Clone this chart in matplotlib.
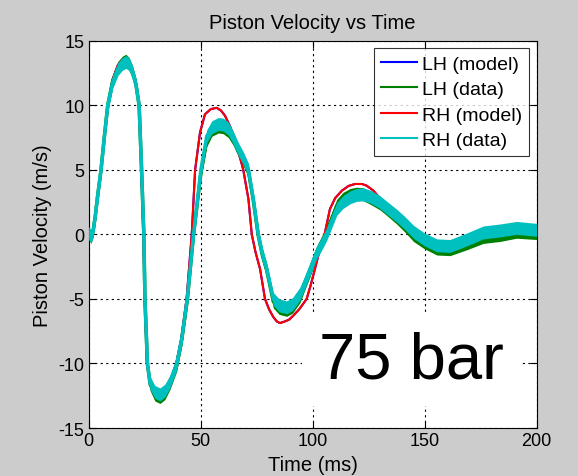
import matplotlib.pyplot as plt

# Values (time in ms, velocity in m/s)
T_MODEL = [0, 1, 2, 3, 4, 5.5, 7, 8.5, 10.7, 13, 15, 16.6, 18, 19.5, 21.1,
           22.4, 23.5, 24.4, 25, 26, 27.4, 29.5, 31.8, 34, 36.3, 39.1, 41.3,
           43.7, 46, 47.5, 49.7, 51.9, 54.5, 57.1, 59, 60.8, 63, 65.3, 67, 69,
           71.3, 72.8, 74.5, 76.5, 78.7, 80.5, 82.4, 84, 85.4, 87.5, 89.5,
           91.3, 94, 97.3, 99, 101, 103, 105.3, 107.7, 110, 113, 116, 118.9,
           122, 124.1, 127, 130, 134, 138, 142, 146, 150, 155, 161, 168, 176,
           184, 191, 200]
RH_MODEL = [0, -0.2, 0.3, 1.5, 3.0, 5.0, 7.6, 10.0, 12.0, 13.1, 13.5, 13.6,
            13.4, 12.8, 11.7, 10.0, 5.0, 0.0, -5.0, -10.0, -11.5, -12.2, -12.4,
            -12.1, -11.4, -10.0, -8.1, -5.0, 0.0, 5.0, 7.9, 9.3, 9.7, 9.8, 9.6,
            9.2, 8.4, 7.4, 6.3, 5.0, 2.74, 0.0, -1.4, -2.68, -5.0, -5.8, -6.4,
            -6.75, -6.87, -6.75, -6.6, -6.3, -5.8, -5.0, -4.0, -2.68, -1.3, 0.0,
            1.96, 2.8, 3.38, 3.75, 3.9, 3.9, 3.77, 3.4, 2.8, 2.1, 1.4, 0.8, 0.1,
            -0.4, -0.8, -0.9, -0.5, 0.0, 0.3, 0.5, 0.4]
# LH model sits underneath the RH model trace in the picture
LH_MODEL = list(RH_MODEL)

T_DATA = [0, 1, 2, 3, 4, 5.5, 7, 8.5, 10.7, 13, 15, 16.6, 18, 19.5, 21.1,
          22.5, 23.6, 24.6, 25.1, 26.2, 27.4, 29.5, 31.8, 34, 36.3, 39.3, 41.5,
          44, 46.8, 50.1, 52.7, 55, 57.9, 60, 62.3, 64.5, 66.8, 69, 71.3, 73.5,
          75.7, 77.5, 79.5, 82.4, 85, 88.4, 91, 94.3, 96.5, 98.8, 101.5, 104.7,
          106.2, 108.5, 110.7, 113.5, 116.7, 119.5, 122.6, 126, 130, 133.5,
          137.5, 141, 145, 149.7, 155.4, 161.3, 168.7, 176.2, 183.6, 191, 200]
RH_DATA = [0.1, -0.2, 0.3, 1.5, 3.0, 5.0, 7.6, 10.0, 11.8, 12.8, 13.2, 13.35,
           13.2, 12.6, 11.6, 10.0, 5.0, 0.0, -5.0, -10.0, -11.5, -12.2, -12.4,
           -12.1, -11.4, -10.0, -8.1, -5.0, 0.0, 5.0, 7.6, 8.3, 8.55, 8.5, 8.2,
           7.5, 6.6, 5.9, 5.0, 2.74, 0.0, -1.5, -2.7, -5.0, -5.5, -5.65, -5.4,
           -4.6, -3.7, -2.7, -1.5, -0.5, 0.0, 1.0, 1.96, 2.5, 2.87, 3.05, 3.1,
           2.9, 2.5, 2.0, 1.45, 0.9, 0.2, -0.37, -0.85, -0.9, -0.4, 0.15, 0.3,
           0.5, 0.35]
LH_DATA = [0.1, -0.2, 0.3, 1.5, 3.0, 5.0, 7.6, 10.0, 11.9, 12.9, 13.3, 13.45,
           13.2, 12.6, 11.6, 10.0, 5.0, 0.0, -5.0, -10.0, -11.6, -12.4, -12.6,
           -12.3, -11.5, -10.1, -8.2, -5.1, 0.0, 4.8, 7.3, 8.1, 8.35, 8.3, 8.0,
           7.4, 6.5, 5.8, 4.9, 2.6, -0.1, -1.6, -2.8, -5.2, -5.7, -5.85, -5.6,
           -4.8, -3.8, -2.8, -1.5, -0.4, 0.2, 1.2, 2.2, 2.75, 3.05, 3.15, 3.1,
           2.8, 2.4, 1.9, 1.3, 0.7, -0.05, -0.6, -1.1, -1.15, -0.7, -0.2, -0.05,
           0.2, 0.1]

BG = "#cccccc"
NOISE = 0.5  # half-height of the noisy data band


def main():
    plt.rcParams["font.family"] = ["Liberation Sans", "DejaVu Sans"]
    plt.rcParams["axes.unicode_minus"] = False

    fig = plt.figure(figsize=(5.78, 4.77), dpi=100, facecolor=BG)
    ax = fig.add_axes([0.1535, 0.1006, 0.775, 0.812])

    ax.plot(T_MODEL, LH_MODEL, color="#0000ff", lw=1.5, label="LH (model)", zorder=3)
    lo = [v - NOISE for v in LH_DATA]
    hi = [v + NOISE for v in LH_DATA]
    ax.fill_between(T_DATA, lo, hi, color="#008000", lw=0, zorder=4)
    ax.plot(T_DATA, LH_DATA, color="#008000", lw=2.5, label="LH (data)", zorder=4)
    ax.plot(T_MODEL, RH_MODEL, color="#ff0000", lw=1.5, label="RH (model)", zorder=5)
    lo = [v - NOISE for v in RH_DATA]
    hi = [v + NOISE for v in RH_DATA]
    ax.fill_between(T_DATA, lo, hi, color="#00bfbf", lw=0, zorder=6)
    ax.plot(T_DATA, RH_DATA, color="#00bfbf", lw=2.5, label="RH (data)", zorder=6)

    ax.set_xlim(0, 200)
    ax.set_ylim(-15, 15)
    ax.set_xticks([0, 50, 100, 150, 200])
    ax.set_yticks([-15, -10, -5, 0, 5, 10, 15])
    ax.tick_params(direction="in", top=True, right=True, length=5,
                   labelsize=13, pad=3)
    ax.grid(True, color="black", linestyle=(0, (2, 3)), linewidth=0.8)
    for s in ax.spines.values():
        s.set_linewidth(0.8)

    ax.set_title("Piston Velocity vs Time", fontsize=14.5, pad=9)
    ax.set_xlabel("Time (ms)", fontsize=14.5, labelpad=4)
    ax.set_ylabel("Piston Velocity (m/s)", fontsize=14.5, labelpad=5)

    ax.text(144, -11.05, "75 bar", fontsize=47, ha="center", va="baseline",
            zorder=1.8,
            bbox=dict(boxstyle="square,pad=0.25", fc="white", ec="none"))

    leg = ax.legend(loc="upper right", fontsize=14, frameon=True, fancybox=False,
                    handlelength=1.85, handletextpad=0.25, labelspacing=0.4,
                    borderaxespad=0.4, borderpad=0.35)
    leg.get_frame().set_edgecolor("black")
    leg.get_frame().set_linewidth(0.8)
    for line in leg.get_lines():
        line.set_linewidth(1.5)

    fig.savefig("out.png", dpi=100, facecolor=BG)


if __name__ == "__main__":
    main()
